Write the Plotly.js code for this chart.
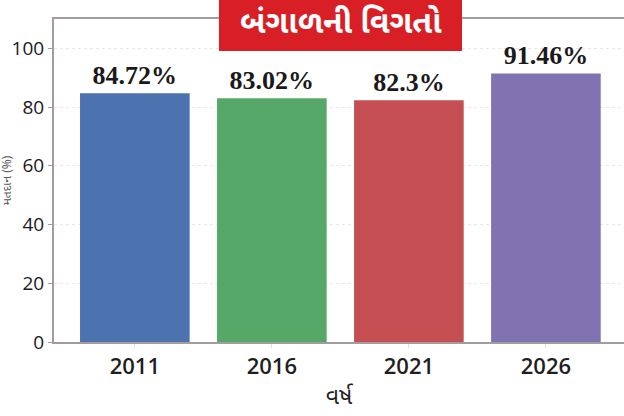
<!DOCTYPE html>
<html>
<head>
<meta charset="utf-8">
<script src="https://cdn.plot.ly/plotly-3.0.1.min.js"></script>
<style>html,body{margin:0;padding:0;background:#fff;}#chart{width:624px;height:416px;}</style>
</head>
<body>
<div id="chart"></div>
<script>
const years = ['2011', '2016', '2021', '2026'];
const turnout = [84.72, 83.02, 82.3, 91.46];
const labels = ['84.72%', '83.02%', '82.3%', '91.46%'];
const colors = ['#4C72B0', '#55A868', '#C44E52', '#8172B2'];
const titleText = 'બંગાળની વિગતો';
const xTitle = 'વર્ષ';
const yTitle = 'મતદાન (%)';
const yTicks = [0, 20, 40, 60, 80, 100];

const guj = '"Noto Sans Gujarati", "Lohit Gujarati", "Noto Sans", sans-serif';

const trace = {
  type: 'bar',
  x: years,
  y: turnout,
  text: labels,
  textposition: 'outside',
  cliponaxis: false,
  textfont: {family: '"Liberation Serif", "Times New Roman", serif', size: 26, color: '#1a1a1a', weight: 700},
  marker: {color: colors, line: {width: 0}},
  hoverinfo: 'none'
};

const layout = {
  width: 624, height: 416,
  margin: {l: 54, r: 0, t: 19, b: 74, pad: 0},
  paper_bgcolor: '#ffffff',
  plot_bgcolor: '#ffffff',
  bargap: 0.2,
  showlegend: false,
  xaxis: {
    type: 'category',
    range: [-0.59, 3.57],
    showline: true, mirror: true, linecolor: '#a39c9c', linewidth: 2,
    showgrid: false, zeroline: false,
    ticks: 'outside', ticklen: 4, tickcolor: '#e6dede',
    tickfont: {family: '"Open Sans", sans-serif', size: 22, color: '#1f1f1f', weight: 600},
    title: {text: xTitle, font: {family: guj, size: 23, color: '#1f1f1f'}, standoff: 8}
  },
  yaxis: {
    range: [0, 110],
    tickvals: yTicks,
    showline: true, linecolor: '#a39c9c', linewidth: 2,
    showgrid: true, gridcolor: '#efe4e4', griddash: 'dot', gridwidth: 1,
    zeroline: false,
    ticks: 'outside', ticklen: 4, tickcolor: '#a39c9c',
    tickfont: {family: '"Open Sans", sans-serif', size: 19, color: '#1a1a1a'},
    title: {text: yTitle, font: {family: guj, size: 12, color: '#5a5a5a'}, standoff: 26}
  },
  shapes: [{
    type: 'rect', xref: 'paper', yref: 'paper',
    x0: (219 - 54) / 570, x1: (462 - 54) / 570,
    y0: (342.5 - 51) / 323.5, y1: (342.5 + 0) / 323.5 + 0.01,
    fillcolor: '#d81f26', line: {width: 0}, layer: 'above'
  }],
  annotations: [{
    xref: 'paper', yref: 'paper',
    x: (340.5 - 54) / 570, y: (342.5 - 25.5) / 323.5,
    xanchor: 'center', yanchor: 'middle',
    text: titleText, showarrow: false,
    font: {family: guj, size: 32, color: '#ffffff', weight: 700}
  }]
};

Plotly.newPlot('chart', [trace], layout, {displayModeBar: false, staticPlot: true});
</script>
</body>
</html>
